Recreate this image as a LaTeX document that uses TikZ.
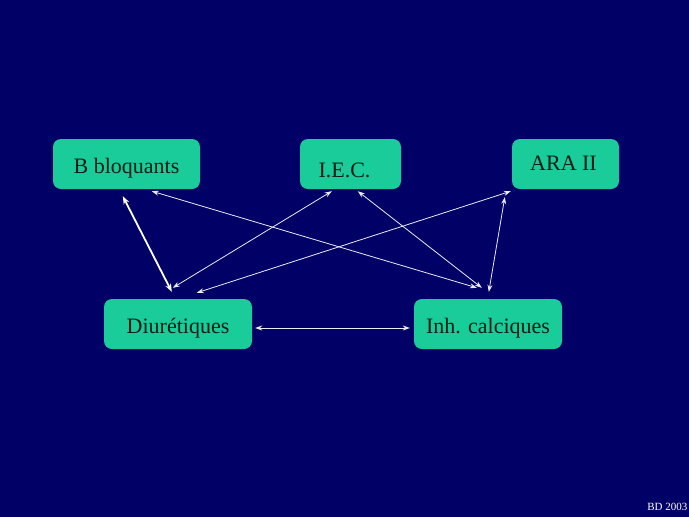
\documentclass[tikz,border=0pt]{standalone}
\usepackage{fontspec}
\setmainfont{Liberation Serif}
\usetikzlibrary{arrows.meta,calc}
\definecolor{bgnavy}{RGB}{0,0,102}
\definecolor{boxgreen}{RGB}{26,204,153}
\definecolor{boxtext}{RGB}{10,28,22}
\definecolor{linkwhite}{RGB}{235,235,245}
\tikzset{
  drugbox/.style={fill=boxgreen, draw=none, rounded corners=8pt, minimum height=50pt,
    inner sep=0pt, text=boxtext, font=\fontsize{22}{24}\selectfont, text depth=0pt},
  link/.style={draw=linkwhite, line width=0.8pt, {Stealth[length=7pt,width=5pt]}-{Stealth[length=7pt,width=5pt]}},
  thicklink/.style={draw=white, line width=1.8pt, {Stealth[length=8pt,width=6pt]}-{Stealth[length=8pt,width=6pt]}}
}
\begin{document}
\begin{tikzpicture}[x=1pt,y=-1pt]
\fill[bgnavy] (0,0) rectangle (689,517);
\useasboundingbox (0,0) rectangle (689,517);
\node[drugbox, minimum width=147pt, text height=18.6pt] (bb) at (126.5,164) {B bloquants};
\node[drugbox, minimum width=101pt, text height=26.6pt] (iec) at (350.5,164) {I.E.C.\hspace*{12pt}};
\node[drugbox, minimum width=107pt, text height=12.6pt] (ara) at (565.5,164) {\hspace*{-4pt}ARA II};
\node[drugbox, minimum width=148pt, text height=18.6pt] (diu) at (178,324) {Diurétiques};
\node[drugbox, minimum width=148pt, text height=18.6pt] (inh) at (488,324) {Inh. calciques};
\node[text=white, font=\fontsize{11}{12}\selectfont, anchor=east, inner sep=0pt] (bd) at (687.5,507) {BD 2003};
\draw[thicklink] ($(bb.south west)+(70,7)$) -- ($(diu.north west)+(68,-7)$);
\draw[link] ($(bb.south west)+(99,2)$) -- ($(inh.north west)+(63,-11)$);
\draw[link] ($(iec.south west)+(32,2)$) -- ($(diu.north west)+(69,-11)$);
\draw[link] ($(iec.south west)+(58,2)$) -- ($(inh.north west)+(68,-11)$);
\draw[link] ($(ara.south west)+(-1,2)$) -- ($(diu.north west)+(93,-6)$);
\draw[link] ($(ara.south west)+(-7,8)$) -- ($(inh.north west)+(75,-7)$);
\draw[link] ($(diu.east)+(3,4)$) -- ($(inh.west)+(-4,4)$);
\end{tikzpicture}
\end{document}
